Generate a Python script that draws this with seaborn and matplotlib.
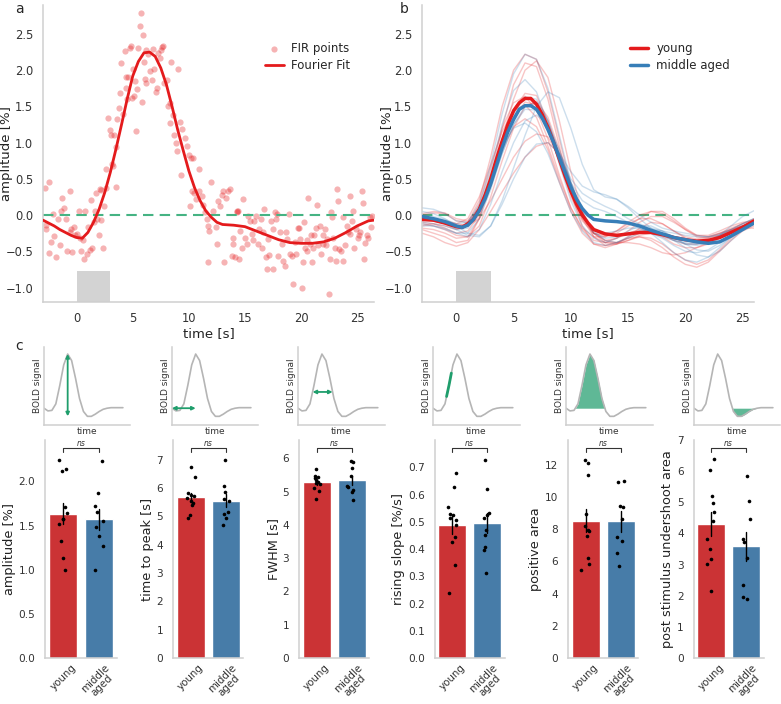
import numpy as np
import pandas as pd
import matplotlib
matplotlib.use("Agg")
import matplotlib.pyplot as plt
import matplotlib.transforms as mtransforms
import seaborn as sns

# ---------------- data ----------------
# panel a: FIR estimates (all subjects) and the Fourier fit
fir_t = [-2.86, -2.77, -2.70, -2.50, -2.47, -2.26, -2.10, -2.00, -1.88, -1.67,
         -1.52, -1.43, -1.28, -1.13, -0.92, -0.83, -0.63, -0.63, -0.48, -0.39,
         -0.27, -0.15, 0.03, 0.18, 0.27, 0.36, 0.57, 0.65, 0.77, 0.92,
         1.01, 1.16, 1.31, 1.40, 1.52, 1.61, 1.76, 1.85, 1.96, 2.05,
         2.20, 2.20, 2.35, 2.44, 2.59, 2.65, 2.83, 2.95, 3.10, 3.18,
         3.24, 3.30, 3.48, 3.54, 3.60, 3.78, 3.84, 3.99, 4.14, 4.29,
         4.38, 4.43, 4.49, 4.58, 4.73, 4.88, 4.94, 5.03, 5.12, 5.24,
         5.33, 5.39, 5.48, 5.63, 5.74, 5.86, 5.92, 6.01, 6.07, 6.16,
         6.22, 6.37, 6.52, 6.67, 6.82, 6.88, 7.05, 7.20, 7.26, 7.41,
         7.56, 7.65, 7.71, 7.80, 8.01, 8.15, 8.30, 8.36, 8.45, 8.60,
         8.69, 8.81, 8.90, 9.05, 9.20, 9.29, 9.43, 9.64, 9.85, 10.03,
         10.09, 10.15, 10.24, 10.33, 10.45, 10.68, 10.86, 10.92, 11.13, 11.28,
         11.43, 11.58, 11.73, 11.73, 11.82, 11.97, 12.17, 12.41, 12.47, 12.62,
         12.77, 12.92, 13.01, 13.13, 13.30, 13.51, 13.66, 13.81, 13.90, 13.96,
         14.10, 14.26, 14.32, 14.40, 14.50, 14.60, 14.70, 14.85, 15.00, 15.15,
         15.30, 15.45, 15.60, 15.74, 15.83, 15.98, 16.13, 16.28, 16.43, 16.49,
         16.64, 16.73, 16.87, 16.93, 17.08, 17.17, 17.29, 17.47, 17.53, 17.68,
         17.77, 17.83, 17.98, 18.13, 18.27, 18.42, 18.57, 18.66, 18.78, 18.96,
         19.02, 19.17, 19.32, 19.46, 19.55, 19.70, 19.82, 19.91, 20.06, 20.15,
         20.27, 20.39, 20.51, 20.57, 20.65, 20.80, 20.89, 20.95, 21.10, 21.19,
         21.34, 21.46, 21.55, 21.70, 21.79, 21.93, 21.99, 22.14, 22.23, 22.35,
         22.53, 22.59, 22.68, 22.80, 22.89, 23.04, 23.13, 23.24, 23.33, 23.42,
         23.54, 23.72, 23.78, 23.93, 24.08, 24.17, 24.32, 24.38, 24.52, 24.67,
         24.76, 24.91, 25.03, 25.12, 25.27, 25.42, 25.51, 25.63, 25.71, 25.86,
         26.00, 26.10, 26.22, 26.31]
fir_v = [0.38, -0.14, -0.19, 0.46, -0.53, -0.37, 0.02, -0.29, -0.58, -0.06,
         -0.42, 0.06, 0.23, 0.10, -0.06, -0.49, -0.24, 0.33, -0.19, -0.51,
         -0.16, -0.28, -0.26, 0.06, -0.32, -0.49, -0.35, -0.61, 0.06, -0.54,
         -0.17, -0.48, 0.21, -0.45, -0.09, 0.06, 0.31, -0.06, -0.28, 0.36,
         -0.07, 0.35, -0.46, 0.13, 0.63, 0.38, 1.34, 1.17, 1.11, 0.70,
         0.68, 1.11, 0.39, 0.94, 1.32, 1.48, 1.69, 2.10, 1.39, 2.26,
         1.76, 1.91, 1.60, 1.90, 2.31, 2.33, 1.61, 2.01, 1.64, 1.85,
         1.16, 1.74, 2.31, 2.61, 2.79, 1.56, 2.49, 2.12, 1.88, 1.83,
         2.28, 2.22, 1.99, 1.87, 2.29, 2.01, 1.70, 1.76, 2.24, 2.17,
         2.28, 2.32, 2.33, 1.83, 1.86, 1.50, 1.55, 1.27, 2.12, 1.38,
         1.11, 0.99, 0.89, 2.02, 1.28, 0.56, 1.19, 1.07, 0.95, 0.83,
         0.13, 0.79, 0.33, 0.79, 0.31, 0.22, 0.63, 0.33, 0.27, 0.14,
         0.04, -0.06, -0.15, -0.65, -0.22, 0.46, 0.05, -0.16, -0.40, 0.20,
         0.12, 0.28, 0.33, -0.65, 0.24, 0.33, 0.36, -0.56, -0.32, -0.40,
         -0.58, 0.04, 0.06, 0.05, -0.61, -0.22, -0.45, 0.22, -0.31, -0.40,
         -0.01, -0.08, -0.26, -0.35, -0.08, -0.01, -0.40, -0.19, -0.06, -0.46,
         -0.24, 0.08, -0.58, -0.74, -0.33, -0.55, -0.08, -0.19, -0.74, 0.04,
         -0.06, 0.01, -0.56, -0.24, -0.40, -0.63, -0.70, -0.24, -0.33, 0.02,
         -0.54, -0.56, -0.95, -0.37, -0.54, -0.18, -0.18, -0.33, -1.00, -0.65,
         -0.10, -0.45, -0.35, -0.49, 0.24, -0.40, -0.28, -0.65, -0.45, -0.28,
         -0.18, 0.14, -0.42, -0.15, -0.54, -0.40, -0.28, -0.19, -0.42, -0.33,
         -1.09, -0.61, 0.04, -0.03, -0.31, -0.45, -0.63, 0.36, 0.20, -0.47,
         -0.49, -0.03, -0.63, -0.42, -0.15, -0.24, 0.27, -0.26, -0.08, 0.06,
         -0.45, -0.19, -0.31, -0.28, -0.24, 0.33, 0.17, -0.61, -0.38, -0.28,
         -0.31, -0.03, -0.17, -0.01]

fit_t = [-3, -2.5, -2, -1.5, -1, -0.5, 0, 0.5, 1, 1.5, 2, 2.5, 3, 3.5, 4, 4.5,
         5, 5.5, 6, 6.5, 7, 7.5, 8, 8.5, 9, 9.5, 10, 10.5, 11, 11.5, 12, 12.5,
         13, 14, 15, 16, 17, 18, 19, 20, 21, 22, 23, 24, 25, 26, 26.5]
fit_v = [-0.07, -0.11, -0.15, -0.20, -0.24, -0.28, -0.31, -0.32, -0.24, -0.10,
         0.08, 0.31, 0.59, 0.91, 1.25, 1.60, 1.92, 2.12, 2.24, 2.25,
         2.19, 2.03, 1.80, 1.50, 1.18, 0.89, 0.61, 0.38, 0.20, 0.06,
         -0.03, -0.10, -0.13, -0.14, -0.16, -0.22, -0.28, -0.34, -0.38, -0.39,
         -0.39, -0.37, -0.32, -0.24, -0.15, -0.08, -0.07]

stim_on, stim_off, stim_top = 0, 3, -0.77

# panel b: group means and single-subject fits
mean_t = [-3, -2, -1, 0, 0.5, 1, 1.5, 2, 2.5, 3, 3.5, 4, 4.5, 5, 5.5, 6, 6.5, 7,
          7.5, 8, 8.5, 9, 9.5, 10, 10.5, 11, 11.5, 12, 13, 14, 15, 16, 17, 18,
          19, 20, 21, 22, 23, 24, 25, 26]
young_mean = [-0.06, -0.07, -0.11, -0.16, -0.17, -0.12, -0.06, 0.08, 0.27, 0.50,
              0.77, 1.02, 1.25, 1.44, 1.55, 1.61, 1.61, 1.53, 1.39, 1.21,
              1.00, 0.77, 0.54, 0.33, 0.15, 0.0, -0.11, -0.20, -0.26, -0.28,
              -0.26, -0.24, -0.24, -0.27, -0.31, -0.34, -0.36, -0.35, -0.31, -0.24,
              -0.17, -0.08]
middle_mean = [-0.02, -0.05, -0.09, -0.15, -0.17, -0.14, -0.06, 0.06, 0.22, 0.43,
               0.68, 0.93, 1.15, 1.32, 1.46, 1.51, 1.51, 1.46, 1.34, 1.18,
               1.00, 0.79, 0.59, 0.39, 0.22, 0.09, 0.0, -0.06, -0.08, -0.09,
               -0.11, -0.15, -0.21, -0.26, -0.31, -0.34, -0.37, -0.39, -0.37, -0.29,
               -0.20, -0.11]

subj_t = list(range(-3, 27))
young_subj = [
    [0.0, 0.03, 0.02, -0.08, -0.10, 0.20, 0.80, 1.50, 2.00, 2.22, 2.15, 1.70, 1.05, 0.40, -0.05,
     -0.30, -0.38, -0.38, -0.32, -0.25, -0.22, -0.25, -0.30, -0.34, -0.35, -0.32, -0.26, -0.20, -0.15, -0.10],
    [-0.10, -0.12, -0.18, -0.25, -0.22, 0.00, 0.45, 1.05, 1.60, 2.00, 2.13, 1.90, 1.30, 0.60, 0.05,
     -0.30, -0.42, -0.40, -0.30, -0.18, -0.10, -0.12, -0.22, -0.32, -0.38, -0.36, -0.30, -0.22, -0.15, -0.10],
    [-0.20, -0.25, -0.30, -0.38, -0.35, -0.05, 0.50, 1.20, 1.80, 2.10, 2.05, 1.60, 0.95, 0.30, -0.15,
     -0.40, -0.45, -0.40, -0.35, -0.30, -0.32, -0.40, -0.52, -0.62, -0.68, -0.62, -0.48, -0.32, -0.20, -0.12],
    [-0.05, -0.08, -0.10, -0.15, -0.12, 0.10, 0.50, 1.00, 1.45, 1.68, 1.65, 1.30, 0.80, 0.30, -0.05,
     -0.25, -0.30, -0.25, -0.15, -0.05, 0.05, 0.05, -0.05, -0.18, -0.28, -0.30, -0.25, -0.18, -0.12, -0.08],
    [-0.15, -0.12, -0.15, -0.20, -0.15, 0.15, 0.65, 1.20, 1.55, 1.64, 1.45, 1.05, 0.55, 0.10, -0.20,
     -0.35, -0.38, -0.32, -0.25, -0.20, -0.22, -0.30, -0.40, -0.45, -0.45, -0.40, -0.32, -0.24, -0.17, -0.12],
    [0.02, 0.05, 0.03, -0.05, -0.08, 0.10, 0.45, 0.95, 1.35, 1.56, 1.52, 1.20, 0.72, 0.25, -0.08,
     -0.25, -0.28, -0.22, -0.10, 0.00, 0.05, 0.02, -0.08, -0.20, -0.30, -0.32, -0.28, -0.20, -0.12, -0.05],
    [-0.12, -0.15, -0.20, -0.28, -0.30, -0.15, 0.25, 0.75, 1.20, 1.50, 1.57, 1.35, 0.90, 0.40, 0.00,
     -0.25, -0.35, -0.38, -0.38, -0.40, -0.45, -0.52, -0.55, -0.52, -0.45, -0.38, -0.30, -0.22, -0.15, -0.10],
    [-0.08, -0.05, -0.08, -0.12, -0.05, 0.25, 0.70, 1.15, 1.45, 1.52, 1.35, 0.95, 0.50, 0.10, -0.18,
     -0.30, -0.30, -0.22, -0.12, -0.05, -0.05, -0.12, -0.22, -0.30, -0.33, -0.30, -0.25, -0.20, -0.15, -0.10],
    [-0.18, -0.20, -0.25, -0.32, -0.30, -0.05, 0.40, 0.90, 1.22, 1.33, 1.22, 0.90, 0.45, 0.05, -0.25,
     -0.40, -0.42, -0.38, -0.32, -0.30, -0.35, -0.45, -0.58, -0.68, -0.72, -0.65, -0.50, -0.35, -0.22, -0.15],
    [-0.05, -0.05, -0.08, -0.12, -0.15, -0.05, 0.20, 0.50, 0.80, 1.02, 1.12, 1.08, 0.80, 0.40, 0.02,
     -0.25, -0.35, -0.32, -0.22, -0.10, -0.02, -0.02, -0.10, -0.20, -0.28, -0.28, -0.22, -0.15, -0.10, -0.08],
    [-0.25, -0.30, -0.38, -0.43, -0.38, -0.20, 0.05, 0.32, 0.58, 0.80, 0.95, 1.00, 0.85, 0.45, 0.05,
     -0.25, -0.38, -0.40, -0.35, -0.28, -0.25, -0.28, -0.35, -0.40, -0.40, -0.35, -0.28, -0.22, -0.18, -0.18],
]
middle_subj = [
    [0.00, -0.02, -0.06, -0.12, -0.10, 0.15, 0.70, 1.40, 1.95, 2.22, 2.15, 1.75, 1.10, 0.45, 0.00,
     -0.25, -0.32, -0.30, -0.25, -0.22, -0.25, -0.32, -0.42, -0.50, -0.52, -0.48, -0.38, -0.25, -0.15, -0.08],
    [0.10, 0.08, 0.02, -0.08, -0.10, 0.10, 0.60, 1.25, 1.72, 1.87, 1.70, 1.25, 0.70, 0.20, -0.15,
     -0.32, -0.38, -0.32, -0.22, -0.15, -0.15, -0.22, -0.32, -0.40, -0.42, -0.38, -0.28, -0.15, -0.02, 0.06],
    [-0.05, -0.08, -0.12, -0.20, -0.28, -0.30, -0.15, 0.20, 0.65, 1.10, 1.50, 1.70, 1.62, 1.20, 0.70,
     0.35, 0.25, 0.22, 0.10, -0.05, -0.18, -0.28, -0.35, -0.40, -0.40, -0.35, -0.28, -0.20, -0.12, -0.05],
    [-0.10, -0.12, -0.15, -0.20, -0.18, 0.05, 0.45, 0.95, 1.40, 1.63, 1.60, 1.30, 0.85, 0.45, 0.20,
     0.10, 0.05, -0.02, -0.10, -0.18, -0.25, -0.30, -0.35, -0.38, -0.40, -0.38, -0.32, -0.25, -0.18, -0.12],
    [-0.15, -0.15, -0.18, -0.25, -0.25, -0.05, 0.35, 0.85, 1.25, 1.50, 1.55, 1.30, 0.85, 0.35, -0.02,
     -0.20, -0.25, -0.22, -0.18, -0.18, -0.25, -0.38, -0.52, -0.62, -0.65, -0.58, -0.45, -0.30, -0.18, -0.10],
    [-0.02, -0.05, -0.08, -0.15, -0.15, 0.05, 0.40, 0.85, 1.25, 1.46, 1.45, 1.20, 0.85, 0.50, 0.30,
     0.20, 0.12, 0.05, -0.05, -0.12, -0.18, -0.22, -0.25, -0.28, -0.30, -0.30, -0.26, -0.20, -0.12, -0.05],
    [-0.12, -0.15, -0.20, -0.25, -0.30, -0.20, 0.15, 0.60, 1.00, 1.30, 1.38, 1.25, 0.90, 0.45, 0.05,
     -0.22, -0.35, -0.38, -0.32, -0.25, -0.20, -0.22, -0.30, -0.40, -0.48, -0.50, -0.42, -0.30, -0.18, -0.10],
    [-0.08, -0.08, -0.12, -0.18, -0.15, 0.10, 0.50, 0.95, 1.20, 1.27, 1.15, 0.85, 0.45, 0.05, -0.22,
     -0.38, -0.42, -0.38, -0.30, -0.22, -0.20, -0.25, -0.35, -0.45, -0.55, -0.58, -0.50, -0.35, -0.20, -0.10],
    [0.05, 0.02, -0.05, -0.15, -0.25, -0.28, -0.15, 0.15, 0.50, 0.80, 0.98, 1.00, 0.85, 0.60, 0.40,
     0.32, 0.28, 0.22, 0.12, 0.00, -0.10, -0.18, -0.22, -0.25, -0.28, -0.30, -0.28, -0.22, -0.15, -0.08],
]

# panel c: schematic HRF used in the icons
hrf_t = list(range(0, 21))
hrf_v = [0.0, -0.05, -0.04, 0.08, 0.42, 0.80, 1.0, 0.88, 0.55, 0.18, -0.06,
         -0.15, -0.15, -0.11, -0.06, -0.02, 0.0, 0.01, 0.01, 0.01, 0.01]

# panel c: per-subject HRF parameters
groups = ["young", "middle aged"]
group_ticks = ["young", "middle\naged"]
amp_young = [2.245, 2.14, 2.12, 1.71, 1.64, 1.58, 1.57, 1.52, 1.33, 1.13, 1.0]
amp_middle = [2.23, 1.875, 1.72, 1.65, 1.55, 1.48, 1.385, 1.27, 1.0]
ttp_young = [6.76, 6.38, 5.82, 5.76, 5.71, 5.65, 5.56, 5.47, 5.39, 5.06, 4.94]
ttp_middle = [7.0, 6.08, 5.88, 5.61, 5.55, 5.14, 5.08, 4.96, 4.7]
fwhm_young = [5.68, 5.48, 5.45, 5.40, 5.36, 5.30, 5.25, 5.22, 5.12, 5.03, 4.77]
fwhm_middle = [5.93, 5.88, 5.71, 5.46, 5.16, 5.13, 5.06, 5.0, 4.76]
slope_young = [0.68, 0.627, 0.554, 0.527, 0.524, 0.512, 0.508, 0.487, 0.445, 0.424, 0.341, 0.237]
slope_middle = [0.725, 0.619, 0.532, 0.524, 0.515, 0.471, 0.453, 0.408, 0.398, 0.311]
parea_young = [12.3, 12.1, 11.4, 8.96, 8.18, 7.97, 7.87, 7.6, 6.2, 5.84, 5.49]
parea_middle = [11.0, 10.95, 9.46, 9.36, 8.65, 7.49, 7.25, 6.52, 5.69]
usarea_young = [6.39, 6.04, 5.21, 4.97, 4.69, 4.4, 3.81, 3.49, 3.17, 3.03, 2.15]
usarea_middle = [5.83, 5.05, 4.46, 3.81, 3.74, 3.22, 2.34, 1.97, 1.88]

# ---------------- style ----------------
RED = "#e41a1c"
BLUE = "#377eb8"
ZERO_GREEN = "#45b383"
ARROW_GREEN = "#1f9e6c"
FILL_GREEN = "#5fb896"
ICON_GRAY = "#b5b5b5"

sns.set_style("white")
plt.rcParams["font.family"] = ["DejaVu Sans"]
plt.rcParams["axes.edgecolor"] = "#cfcfcf"
plt.rcParams["axes.linewidth"] = 1.1
np.random.seed(7)

W, H = 781, 704
fig = plt.figure(figsize=(W / 100, H / 100), dpi=100)


def add_ax(l, t, r, b):
    # pixel box -> figure fraction
    return fig.add_axes([l / W, 1 - b / H, (r - l) / W, (b - t) / H])


def style_time_axis(ax):
    ax.set_xlim(-3, 26.5)
    ax.set_ylim(-1.2, 2.9)
    ax.set_xticks([0, 5, 10, 15, 20, 25])
    ax.set_yticks([-1.0, -0.5, 0.0, 0.5, 1.0, 1.5, 2.0, 2.5])
    ax.tick_params(labelsize=8.3, colors="#333333")
    ax.set_xlabel("time [s]", fontsize=9.5, color="#222222", labelpad=2)
    ax.set_ylabel("amplitude [%]", fontsize=9.5, color="#222222")
    ax.axhline(0, color=ZERO_GREEN, ls="--", lw=1.5, dashes=(5, 3), zorder=1)
    ax.fill_between([stim_on, stim_off], -1.2, stim_top, color="#d3d3d3", lw=0)
    sns.despine(ax=ax)


#1. panel a
ax_a = add_ax(43, 5, 374, 302)
sns.scatterplot(x=fir_t, y=fir_v, ax=ax_a, color=RED, alpha=0.33, s=20,
                linewidth=0, label="FIR points")
sns.lineplot(x=fit_t, y=fit_v, ax=ax_a, color=RED, lw=2, label="Fourier Fit", zorder=3)
style_time_axis(ax_a)
ax_a.yaxis.set_label_coords(-0.09, 0.5)
ax_a.legend(loc="upper right", bbox_to_anchor=(0.96, 0.91), frameon=False,
            fontsize=8.5, handlelength=1.6, handletextpad=0.6, labelspacing=0.3)

#2. panel b
ax_b = add_ax(422, 5, 754, 302)
for vals in young_subj:
    sns.lineplot(x=subj_t, y=vals, ax=ax_b, color=RED, alpha=0.25, lw=1)
for vals in middle_subj:
    sns.lineplot(x=subj_t, y=vals, ax=ax_b, color=BLUE, alpha=0.25, lw=1)
sns.lineplot(x=mean_t, y=young_mean, ax=ax_b, color=RED, lw=2.5, label="young", zorder=4)
sns.lineplot(x=mean_t, y=middle_mean, ax=ax_b, color=BLUE, lw=2.5, label="middle aged", zorder=5)
style_time_axis(ax_b)
ax_b.set_xlim(-3, 26)
ax_b.yaxis.set_label_coords(-0.085, 0.5)
ax_b.legend(loc="upper right", bbox_to_anchor=(0.96, 0.91), frameon=False,
            fontsize=8.5, handlelength=1.5, handletextpad=0.7, labelspacing=0.3)

#3. panel c icons
hrf_t_arr = np.array(hrf_t, dtype=float)
hrf_v_arr = np.array(hrf_v)
ip = int(np.argmax(hrf_v_arr))
icon_x = [(44, 130), (172, 258), (298, 385), (433, 520), (566, 653), (694, 780)]
for i, (l, r) in enumerate(icon_x):
    ax = add_ax(l, 347, r, 425)
    sns.lineplot(x=hrf_t, y=hrf_v, ax=ax, color=ICON_GRAY, lw=1.2)
    ax.set_xlim(0, 21.8)
    ax.set_ylim(-0.31, 1.13)
    ax.set_xticks([])
    ax.set_yticks([])
    ax.set_xlabel("time", fontsize=6.5, labelpad=1.5, color="#333333")
    ax.set_ylabel("BOLD signal", fontsize=6.5, labelpad=1.5, color="#333333")
    sns.despine(ax=ax)
    arrow = dict(arrowstyle="<|-|>", color=ARROW_GREEN, lw=1.3, mutation_scale=5,
                 shrinkA=0, shrinkB=0)
    if i == 0:
        ax.annotate("", xy=(hrf_t[ip], hrf_v_arr.max()), xytext=(hrf_t[ip], hrf_v_arr.min()),
                    arrowprops=arrow)
    elif i == 1:
        ax.annotate("", xy=(hrf_t[0], hrf_v[0]), xytext=(hrf_t[ip], hrf_v[0]),
                    arrowprops=arrow)
    elif i == 2:
        level = 0.3 * hrf_v_arr.max()
        left = np.interp(level, hrf_v_arr[2:ip + 1], hrf_t_arr[2:ip + 1])
        right = np.interp(level, hrf_v_arr[ip:11][::-1], hrf_t_arr[ip:11][::-1])
        ax.annotate("", xy=(left, level), xytext=(right, level), arrowprops=arrow)
    elif i == 3:
        seg_t = np.array([3.4, 4.0, 4.6])
        ax.plot(seg_t, np.interp(seg_t, hrf_t_arr, hrf_v_arr), color=ARROW_GREEN, lw=2)
    elif i == 4:
        ax.fill_between(hrf_t_arr, hrf_v_arr, 0,
                        where=(hrf_v_arr >= 0) & (hrf_t_arr >= 2) & (hrf_t_arr <= 10),
                        interpolate=True, color=FILL_GREEN, lw=0)
    else:
        ax.fill_between(hrf_t_arr, hrf_v_arr, 0,
                        where=(hrf_v_arr <= 0) & (hrf_t_arr >= 9),
                        interpolate=True, color=FILL_GREEN, lw=0)

#4. panel c bars
metrics = [
    ("amplitude [%]", amp_young, amp_middle, 2.47, [0, 0.5, 1.0, 1.5, 2.0]),
    ("time to peak [s]", ttp_young, ttp_middle, 7.7, [0, 1, 2, 3, 4, 5, 6, 7]),
    ("FWHM [s]", fwhm_young, fwhm_middle, 6.55, [0, 1, 2, 3, 4, 5, 6]),
    ("rising slope [%/s]", slope_young, slope_middle, 0.8, [0, 0.1, 0.2, 0.3, 0.4, 0.5, 0.6, 0.7]),
    ("positive area", parea_young, parea_middle, 13.55, [0, 2, 4, 6, 8, 10, 12]),
    ("post stimulus undershoot area", usarea_young, usarea_middle, 7.0, [0, 1, 2, 3, 4, 5, 6, 7]),
]
bar_x = [(45, 117), (173, 243), (299, 369), (434.5, 504.5), (568, 638), (693.5, 763.5)]
for (l, r), (ylab, yv, mv, ytop, yt) in zip(bar_x, metrics):
    ax = add_ax(l, 440, r, 658)
    df = pd.DataFrame({"group": [groups[0]] * len(yv) + [groups[1]] * len(mv),
                       "value": yv + mv})
    sns.barplot(data=df, x="group", y="value", hue="group", order=groups,
                hue_order=groups, palette=[RED, BLUE], errorbar="se",
                err_kws={"color": "k", "linewidth": 1}, legend=False, ax=ax)
    sns.stripplot(data=df, x="group", y="value", order=groups, color="k",
                  size=2.6, jitter=0.13, ax=ax)
    ax.set_ylim(0, ytop)
    ax.set_yticks(yt)
    ax.set_xlim(-0.5, 1.5)
    ax.set_xticks([0, 1])
    ax.set_xticklabels(group_ticks, rotation=45, fontsize=7.4, color="#333333",
                       linespacing=0.95)
    ax.tick_params(axis="x", pad=0)
    ax.tick_params(axis="y", labelsize=7.6, colors="#333333")
    ax.set_xlabel("")
    ax.set_ylabel(ylab, fontsize=9.3, labelpad=2, color="#222222")
    sns.despine(ax=ax)
    trans = mtransforms.blended_transform_factory(ax.transData, ax.transAxes)
    ax.plot([0, 0, 1, 1], [0.945, 0.963, 0.963, 0.945], transform=trans,
            color="#333333", lw=0.8, clip_on=False)
    ax.text(0.5, 0.985, "ns", transform=trans, ha="center", va="center",
            fontsize=5.5, style="italic", color="#333333")

#5. panel letters
fig.text(15 / W, 1 - 13 / H, "a", fontsize=10, va="baseline")
fig.text(400 / W, 1 - 13 / H, "b", fontsize=10, va="baseline")
fig.text(15 / W, 1 - 350 / H, "c", fontsize=10, va="baseline")

fig.savefig("out.png", dpi=100)
